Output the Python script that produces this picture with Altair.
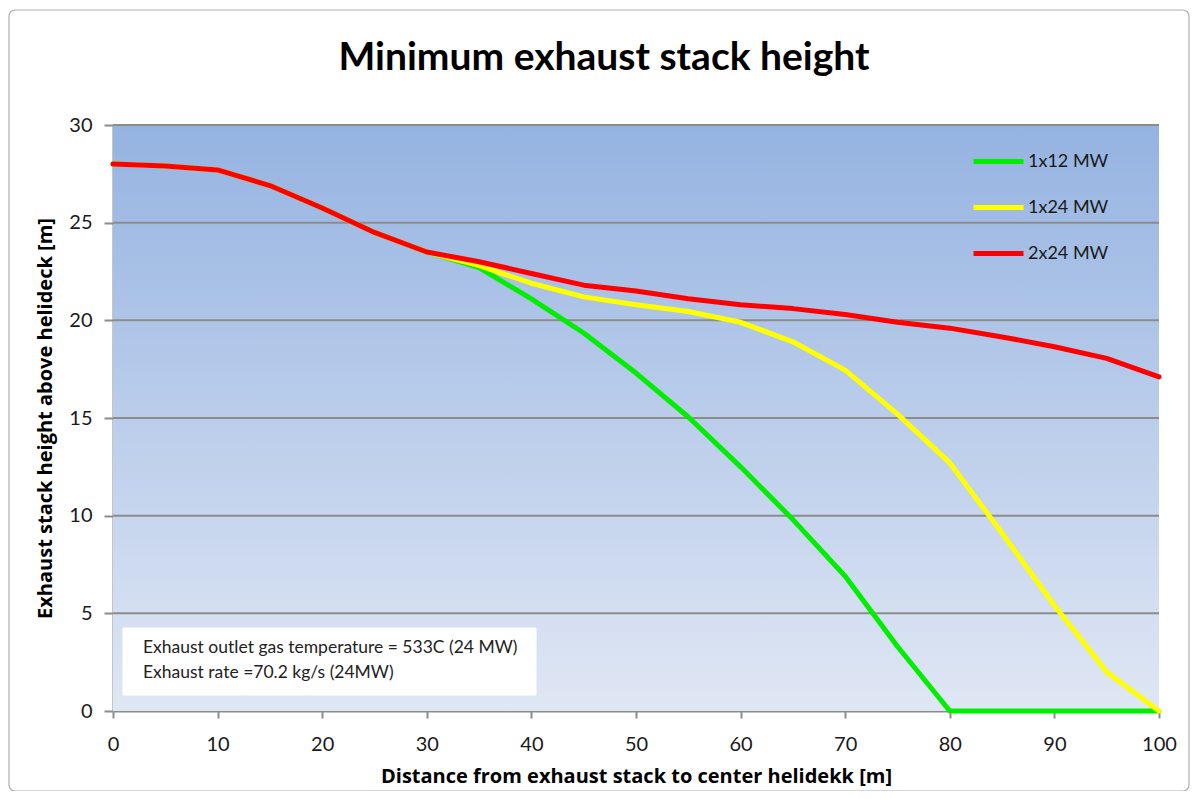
import altair as alt
import pandas as pd

distance = [0, 5, 10, 15, 20, 25, 30, 35, 40, 45, 50, 55, 60, 65, 70, 75, 80, 85, 90, 95, 100]
mw_1x12 = [28.0, 27.9, 27.7, 26.9, 25.75, 24.5, 23.5, 22.7, 21.1, 19.35, 17.3, 15.05, 12.5, 9.8, 6.9, 3.3, 0.0, 0.0, 0.0, 0.0, 0.0]
mw_1x24 = [28.0, 27.9, 27.7, 26.9, 25.75, 24.5, 23.5, 22.8, 21.9, 21.2, 20.8, 20.45, 19.9, 18.9, 17.45, 15.2, 12.7, 9.1, 5.4, 2.0, 0.0]
mw_2x24 = [28.0, 27.9, 27.7, 26.9, 25.75, 24.5, 23.5, 23.0, 22.4, 21.8, 21.5, 21.1, 20.8, 20.6, 20.3, 19.9, 19.6, 19.15, 18.65, 18.05, 17.1]
series_names = ["1x12 MW", "1x24 MW", "2x24 MW"]
series_colors = ["#00ee00", "#ffff00", "#ff0000"]
x_ticks = [0, 10, 20, 30, 40, 50, 60, 70, 80, 90, 100]
y_ticks = [0, 5, 10, 15, 20, 25, 30]
note_lines = ["Exhaust outlet gas temperature = 533C (24 MW)", "Exhaust rate =70.2 kg/s (24MW)"]
chart_title = "Minimum exhaust stack height"

rows = []
for name, vals in zip(series_names, [mw_1x12, mw_1x24, mw_2x24]):
    for d, v in zip(distance, vals):
        rows.append({"distance": d, "height": v, "series": name})
df = pd.DataFrame(rows)

W, H = 1046, 586
FONT = "Lato"
TFONT = "Open Sans"

one = pd.DataFrame({"k": [0]})

bg = alt.Chart(one).mark_rect(
    color=alt.LinearGradient(gradient="linear", x1=0, y1=0, x2=0, y2=1,
                             stops=[alt.GradientStop(offset=0, color="#95b3e1"),
                                    alt.GradientStop(offset=1, color="#e0e7f4")])
).encode(x=alt.value(0), x2=alt.value(W), y=alt.value(0), y2=alt.value(H))

grid = alt.Chart(pd.DataFrame({"height": y_ticks[1:]})).mark_rule(
    color="#8c8c8c", strokeWidth=2
).encode(y=alt.Y("height:Q", scale=alt.Scale(domain=[0, 30], nice=False)))

lines = alt.Chart(df).mark_line(strokeWidth=5, strokeCap="round", strokeJoin="round").encode(
    x=alt.X("distance:Q",
            scale=alt.Scale(domain=[0, 100], nice=False),
            axis=alt.Axis(values=x_ticks, title="Distance from exhaust stack to center helidekk [m]",
                          grid=False, tickSize=7, labelPadding=16, titlePadding=12,
                          labelFontSize=20, titleFontSize=20, labelFlush=False)),
    y=alt.Y("height:Q",
            scale=alt.Scale(domain=[0, 30], nice=False),
            axis=alt.Axis(values=y_ticks, title="Exhaust stack height above helideck [m]",
                          grid=False, tickSize=9, labelPadding=12, titlePadding=13,
                          labelFontSize=20, titleFontSize=20, labelFlush=False)),
    color=alt.Color("series:N",
                    scale=alt.Scale(domain=series_names, range=series_colors),
                    legend=alt.Legend(title=None, orient="none", legendX=858, legendY=9,
                                      symbolType="stroke", symbolSize=2500, symbolStrokeWidth=5,
                                      labelFontSize=18, labelOffset=2, rowPadding=8,
                                      labelFont=FONT, labelColor="#1a1a1a")),
    order=alt.Order("distance:Q"),
)

box = alt.Chart(one).mark_rect(fill="white", stroke="white").encode(
    x=alt.value(10), x2=alt.value(423), y=alt.value(503), y2=alt.value(570)
)
note = alt.Chart(pd.DataFrame({"txt": ["\n".join(note_lines)]})).mark_text(
    align="left", baseline="middle", fontSize=17.5, font=FONT, color="#222222",
    lineBreak="\n", lineHeight=25
).encode(x=alt.value(30), y=alt.value(523), text="txt:N")

title = alt.Chart(pd.DataFrame({"t": [chart_title]})).mark_text(
    align="center", baseline="alphabetic", fontSize=39, font=FONT, fontWeight="bold",
    color="#000000"
).encode(x=alt.value(491), y=alt.value(-55), text="t:N")

border = alt.Chart(one).mark_rect(
    fill="transparent", stroke="#b0b0b0", strokeWidth=1.2, cornerRadius=6
).encode(x=alt.value(-104), x2=alt.value(1076), y=alt.value(-115), y2=alt.value(666))

chart = alt.layer(bg, grid, lines, box, note, title, border).properties(
    width=W, height=H,
    autosize=alt.AutoSizeParams(type="none"),
    padding={"left": 105, "top": 117, "right": 32, "bottom": 80},
).configure_view(
    strokeOpacity=0,
).configure_axis(
    labelFont=FONT, titleFont=TFONT, labelColor="#1a1a1a", titleColor="#000000",
    titleFontWeight="bold", domainColor="#8c8c8c", domainWidth=2, tickColor="#8c8c8c",
    tickWidth=2,
)

chart.save("out.html", embed_options={"renderer": "svg", "actions": False})
